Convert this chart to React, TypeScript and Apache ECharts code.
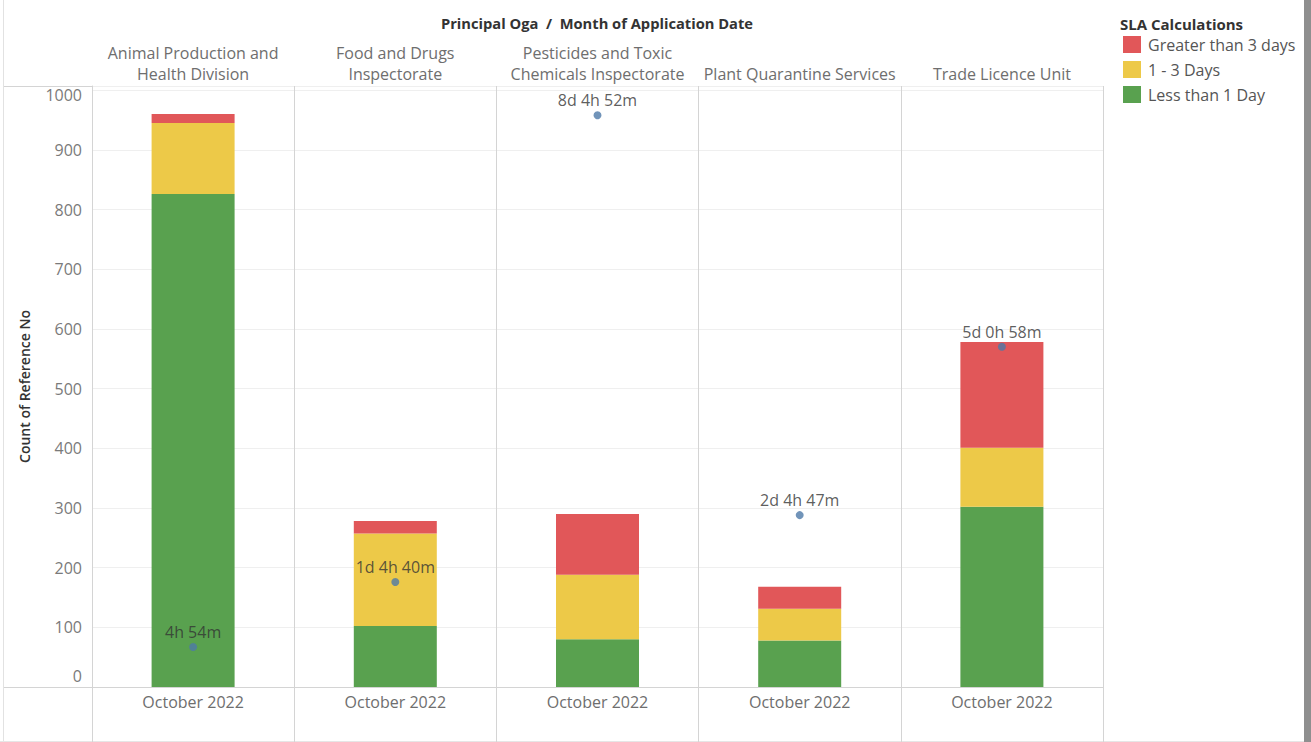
import React, { useEffect, useRef } from "react";
import * as echarts from "echarts";

const panels = [
  "Animal Production and\nHealth Division",
  "Food and Drugs\nInspectorate",
  "Pesticides and Toxic\nChemicals Inspectorate",
  "Plant Quarantine Services",
  "Trade Licence Unit",
];
const months = ["October 2022", "October 2022", "October 2022", "October 2022", "October 2022"];
const lessThan1Day = [826, 102, 80, 78, 302];
const oneToThreeDays = [119, 155, 108, 53, 99];
const greaterThan3Days = [15, 21, 102, 37, 177];
// average turnaround marker (position on the count axis) and its label
const avgMarker = [67, 176, 958, 288, 570];
const avgLabels = ["4h 54m", "1d 4h 40m", "8d 4h 52m", "2d 4h 47m", "5d 0h 58m"];
const yTicks = [0, 100, 200, 300, 400, 500, 600, 700, 800, 900, 1000];

const FONT = "'Open Sans', sans-serif";
const LINE = "#d4d4d4";

export default function App() {
  const ref = useRef<HTMLDivElement>(null);
  useEffect(() => {
    if (!ref.current) return;
    const chart = echarts.init(ref.current, null, { renderer: "svg" });
    chart.setOption({
      animation: false,
      backgroundColor: "#ffffff",
      textStyle: { fontFamily: FONT },
      grid: { left: 92, right: 208, top: 86, bottom: 55, containLabel: false },
      legend: {
        orient: "vertical",
        left: 1123,
        top: 36,
        padding: 0,
        icon: "rect",
        itemWidth: 18,
        itemHeight: 17,
        itemGap: 8,
        data: ["Greater than 3 days", "1 - 3 Days", "Less than 1 Day"],
        textStyle: { color: "#555", fontSize: 16, fontFamily: FONT, padding: [0, 0, 0, 2] },
        selectedMode: false,
      },
      xAxis: [
        {
          type: "category",
          position: "top",
          data: panels,
          axisLine: { show: true, lineStyle: { color: LINE } },
          axisTick: { show: true, length: 51, lineStyle: { color: LINE } },
          axisLabel: {
            interval: 0,
            color: "#6e6e6e",
            fontSize: 16,
            lineHeight: 21,
            margin: 2,
            fontFamily: FONT,
          },
          splitLine: { show: true, lineStyle: { color: LINE } },
        },
        {
          type: "category",
          position: "bottom",
          data: months,
          axisLine: { show: true, lineStyle: { color: LINE } },
          axisTick: { show: true, length: 55, lineStyle: { color: LINE } },
          axisLabel: {
            interval: 0,
            color: "#6e6e6e",
            fontSize: 16,
            margin: 7,
            fontFamily: FONT,
          },
          splitLine: { show: false },
        },
      ],
      yAxis: {
        type: "value",
        min: 0,
        max: 1007,
        interval: 100,
        name: "Count of Reference No",
        nameLocation: "middle",
        nameGap: 61,
        nameTextStyle: { color: "#333", fontSize: 14, fontWeight: 600, fontFamily: FONT },
        axisLine: { show: true, lineStyle: { color: LINE } },
        axisTick: { show: false },
        splitLine: { show: true, lineStyle: { color: "#efefef" } },
        axisLabel: {
          color: "#7a7a7a",
          fontSize: 16,
          margin: 10,
          fontFamily: FONT,
          formatter: (v: number) => {
            if (!yTicks.includes(v)) return "";
            if (v === 0) return "{lo|0}";
            if (v === 1000) return "{hi|1000}";
            return String(v);
          },
          rich: {
            lo: { color: "#7a7a7a", fontSize: 16, fontFamily: FONT, padding: [0, 0, 22, 0] },
            hi: { color: "#7a7a7a", fontSize: 16, fontFamily: FONT, padding: [10, 0, 0, 0] },
          },
        },
      },
      series: [
        {
          name: "Less than 1 Day",
          type: "bar",
          stack: "sla",
          xAxisIndex: 1,
          barWidth: 83,
          itemStyle: { color: "#59a14f" },
          data: lessThan1Day,
        },
        {
          name: "1 - 3 Days",
          type: "bar",
          stack: "sla",
          xAxisIndex: 1,
          barWidth: 83,
          itemStyle: { color: "#edc948" },
          data: oneToThreeDays,
        },
        {
          name: "Greater than 3 days",
          type: "bar",
          stack: "sla",
          xAxisIndex: 1,
          barWidth: 83,
          itemStyle: { color: "#e15759" },
          data: greaterThan3Days,
        },
        {
          name: "Avg Duration",
          type: "scatter",
          xAxisIndex: 1,
          symbolSize: 8,
          z: 5,
          itemStyle: { color: "#4e79a7" },
          label: {
            show: true,
            position: "top",
            distance: 3,
            color: "#333",
            fontSize: 16,
            fontFamily: FONT,
            formatter: (p: any) => avgLabels[p.dataIndex],
          },
          data: avgMarker,
        },
      ],
      graphic: [
        { type: "line", shape: { x1: 3, y1: 86.5, x2: 92, y2: 86.5 }, style: { stroke: LINE, lineWidth: 1 } },
        { type: "line", shape: { x1: 3, y1: 687.5, x2: 92, y2: 687.5 }, style: { stroke: LINE, lineWidth: 1 } },
        { type: "line", shape: { x1: 3.5, y1: 0, x2: 3.5, y2: 742 }, style: { stroke: "#e2e2e2", lineWidth: 1 } },
        { type: "line", shape: { x1: 0, y1: 741.5, x2: 1304, y2: 741.5 }, style: { stroke: "#e6e6e6", lineWidth: 1 } },
        { type: "rect", shape: { x: 1304, y: 0, width: 7, height: 742 }, style: { fill: "#8f8f8f" } },
        {
          type: "text",
          x: 597,
          y: 23,
          style: {
            text: "Principal Oga  /  Month of Application Date",
            align: "center",
            verticalAlign: "middle",
            fill: "#333",
            font: `bold 14.7px ${FONT}`,
          },
        },
        {
          type: "text",
          x: 1120,
          y: 24,
          style: {
            text: "SLA Calculations",
            align: "left",
            verticalAlign: "middle",
            fill: "#333",
            font: `bold 15px ${FONT}`,
          },
        },
      ],
    });
    return () => chart.dispose();
  }, []);
  return (
    <div
      ref={ref}
      style={{ position: "fixed", left: 0, top: 0, width: 1311, height: 742, background: "#fff" }}
    />
  );
}
